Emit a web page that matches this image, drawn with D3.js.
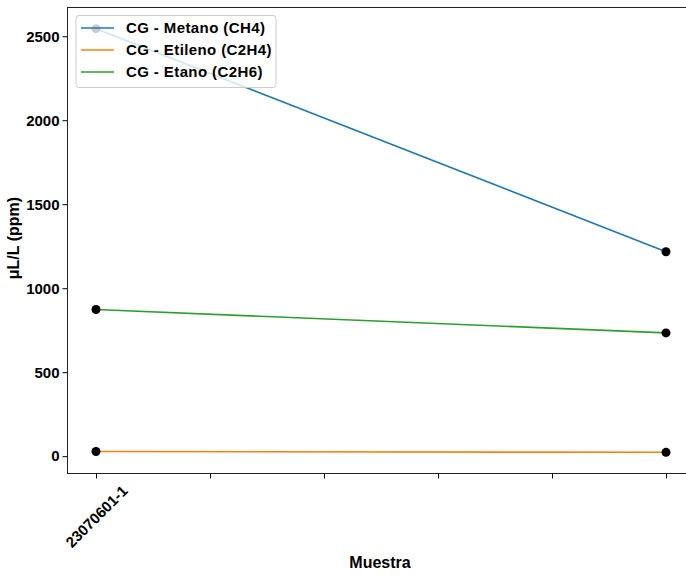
<!DOCTYPE html>
<html>
<head>
<meta charset="utf-8">
<script src="https://cdn.jsdelivr.net/npm/d3@7"></script>
<style>
  body { margin: 0; background: #fff; }
  text { font-family: "Liberation Sans", Arial, sans-serif; font-weight: bold; fill: #000; }
</style>
</head>
<body>
<div id="chart"></div>
<script>
// sample positions (0 = first sample, 1 = second)
const samples = [0, 1];
const tickValues = [0, 0.2, 0.4, 0.6, 0.8, 1.0];
const tickLabels = ["23070601-1", "", "", "", "", ""];
const seriesNames = ["CG - Metano (CH4)", "CG - Etileno (C2H4)", "CG - Etano (C2H6)"];
const metano = [2545, 1217];
const etileno = [28, 23];
const etano = [873, 734];
const colors = ["#1f77b4", "#ff7f0e", "#2ca02c"];
const yTicks = [0, 500, 1000, 1500, 2000, 2500];

const W = 686, H = 575;
const mLeft = 67.5, mTop = 7.5, mBottom = 473.5, mRight = 694.5;

const svg = d3.select("#chart").append("svg")
  .attr("width", W).attr("height", H);

const allVals = metano.concat(etileno, etano);
const ymin = d3.min(allVals), ymax = d3.max(allVals);
const pad = (ymax - ymin) * 0.05;

const x = d3.scaleLinear().domain([-0.05, 1.05]).range([mLeft, mRight]);
const y = d3.scaleLinear().domain([ymin - pad, ymax + pad]).range([mBottom, mTop]);

// axes
const xAxis = d3.axisBottom(x).tickValues(tickValues)
  .tickFormat((d, i) => tickLabels[i]).tickSize(5);
const yAxis = d3.axisLeft(y).tickValues(yTicks).tickSize(5).tickPadding(3)
  .tickFormat(d3.format("d"));

const gx = svg.append("g").attr("transform", `translate(0,${mBottom})`).call(xAxis);
gx.select(".domain").remove();
gx.selectAll("line").attr("stroke", "#000").attr("stroke-width", 1);
// labels centred on the tick, rotated 45 degrees
gx.selectAll(".tick text")
  .style("font-size", "15px")
  .attr("text-anchor", "middle")
  .attr("x", 0).attr("y", 0).attr("dy", "0.35em")
  .attr("transform", "translate(0,43) rotate(-45)");

const gy = svg.append("g").attr("transform", `translate(${mLeft},0)`).call(yAxis);
gy.select(".domain").remove();
gy.selectAll("line").attr("stroke", "#000").attr("stroke-width", 1);
gy.selectAll("text").style("font-size", "15px");

// frame
svg.append("rect")
  .attr("x", mLeft).attr("y", mTop)
  .attr("width", mRight - mLeft).attr("height", mBottom - mTop)
  .attr("fill", "none").attr("stroke", "#222").attr("stroke-width", 1);

// lines and dots
const allSeries = [metano, etileno, etano];
const line = d3.line().x((d, i) => x(samples[i])).y(d => y(d));

allSeries.forEach((s, k) => {
  svg.append("path").datum(s)
    .attr("d", line)
    .attr("fill", "none")
    .attr("stroke", colors[k])
    .attr("stroke-width", 1.6);
});
allSeries.forEach(s => {
  svg.selectAll(null).data(s).enter().append("circle")
    .attr("cx", (d, i) => x(samples[i]))
    .attr("cy", d => y(d))
    .attr("r", 4.5)
    .attr("fill", "#000");
});

// legend
const lg = svg.append("g");
lg.append("rect")
  .attr("x", 76).attr("y", 15.5).attr("width", 200).attr("height", 72)
  .attr("rx", 3)
  .attr("fill", "#fff").attr("fill-opacity", 0.8)
  .attr("stroke", "#ccc").attr("stroke-width", 1);
seriesNames.forEach((n, k) => {
  const ly = 28 + k * 22;
  lg.append("line")
    .attr("x1", 81).attr("x2", 114).attr("y1", ly).attr("y2", ly)
    .attr("stroke", colors[k]).attr("stroke-width", 1.6);
  lg.append("text")
    .attr("x", 126).attr("y", ly).attr("dy", "0.35em")
    .style("font-size", "15px")
    .style("letter-spacing", "0.4px")
    .text(n);
});

// axis titles
svg.append("text")
  .attr("x", 380).attr("y", 568)
  .attr("text-anchor", "middle")
  .style("font-size", "16px")
  .text("Muestra");

svg.append("text")
  .attr("transform", `translate(19,238) rotate(-90)`)
  .attr("text-anchor", "middle")
  .style("font-size", "16px")
  .text("μL/L (ppm)");
</script>
</body>
</html>
